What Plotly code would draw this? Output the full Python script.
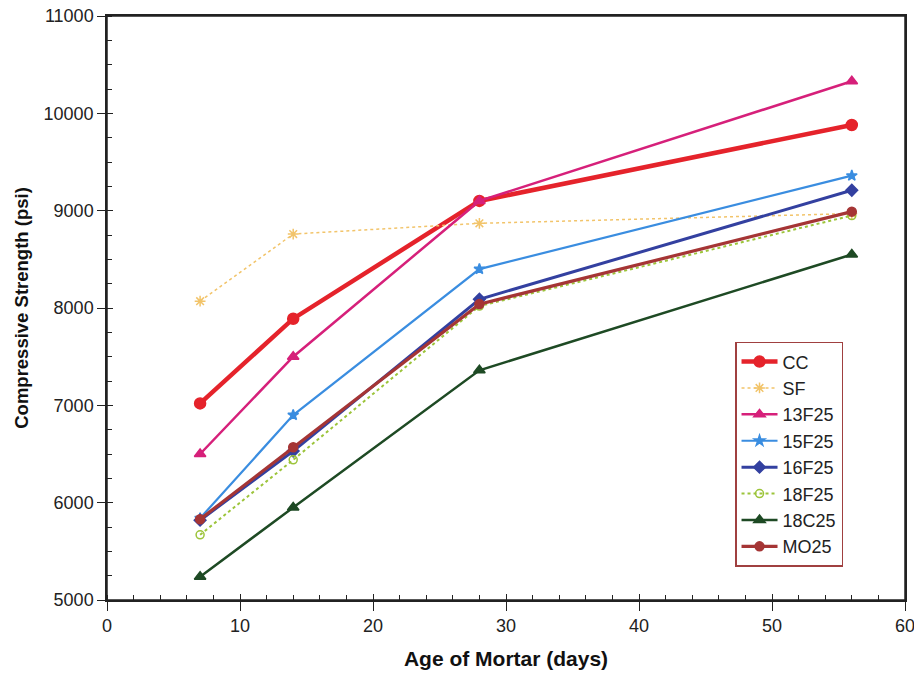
import plotly.graph_objects as go

days = [7, 14, 28, 56]
series_names = ["CC", "SF", "13F25", "15F25", "16F25", "18F25", "18C25", "MO25"]
cc = [7020, 7890, 9100, 9880]
sf = [8070, 8760, 8870, 8970]
f13 = [6500, 7500, 9100, 10330]
f15 = [5840, 6900, 8400, 9360]
f16 = [5820, 6530, 8090, 9210]
f18 = [5670, 6440, 8020, 8950]
c18 = [5240, 5950, 7360, 8550]
mo25 = [5830, 6570, 8040, 8990]

values = [cc, sf, f13, f15, f16, f18, c18, mo25]
styles = [
    dict(color="#e5232b", width=4.5, dash="solid", symbol="circle", size=11),
    dict(color="#f2c46a", width=1.5, dash="dot", symbol="asterisk-open", size=9),
    dict(color="#d6207a", width=2.5, dash="solid", symbol="triangle-up", size=10),
    dict(color="#3a8de0", width=2.2, dash="solid", symbol="star", size=8),
    dict(color="#3340a0", width=3, dash="solid", symbol="diamond", size=9),
    dict(color="#9cc43a", width=2, dash="dot", symbol="circle-open", size=8),
    dict(color="#1e4a24", width=2.5, dash="solid", symbol="triangle-up", size=10),
    dict(color="#a53535", width=3.2, dash="solid", symbol="circle", size=9),
]

fig = go.Figure()
for name, vals, st in zip(series_names, values, styles):
    fig.add_trace(go.Scatter(
        x=days, y=vals, name=name, mode="lines+markers",
        line=dict(color=st["color"], width=st["width"], dash=st["dash"]),
        marker=dict(color=st["color"], symbol=st["symbol"], size=st["size"],
                    line=dict(color=st["color"], width=1.5)),
    ))

font = "Liberation Sans, Arial, sans-serif"
axis_common = dict(
    showgrid=False, zeroline=False, showline=True, linecolor="#222", linewidth=1.5,
    mirror=True, ticks="outside", tickcolor="#222", automargin=False,
    ticklabeloverflow="allow",
    tickfont=dict(family=font, size=18, color="#222"),
)
fig.update_layout(
    width=914, height=675,
    margin=dict(l=107, r=9, t=16, b=75),
    paper_bgcolor="white", plot_bgcolor="white",
    showlegend=True,
    legend=dict(
        x=0.787, y=0.442, xanchor="left", yanchor="top",
        bordercolor="#a04040", borderwidth=1.5, bgcolor="white",
        font=dict(family=font, size=18, color="#222"),
        tracegroupgap=0, itemwidth=36,
    ),
    xaxis=dict(
        range=[0, 60], dtick=10, ticklen=9, **axis_common,
        minor=dict(dtick=2, ticks="inside", ticklen=5, tickcolor="#222"),
        title=dict(text="<b>Age of Mortar (days)</b>", font=dict(family=font, size=21, color="#111"), standoff=16),
    ),
    yaxis=dict(
        range=[5000, 11000], dtick=1000, tickformat="d", ticklen=8, **axis_common,
        minor=dict(dtick=250, ticks="inside", ticklen=5, tickcolor="#222"),
        title=dict(text="<b>Compressive Strength (psi)</b>", font=dict(family=font, size=18.5, color="#111"), standoff=10),
    ),
    xaxis2=dict(overlaying="x", matches="x", range=[0, 60], dtick=10, ticks="inside", ticklen=6,
                tickcolor="#222", showticklabels=False, showgrid=False, zeroline=False, side="bottom"),
    yaxis2=dict(overlaying="y", matches="y", range=[5000, 11000], dtick=1000, ticks="inside", ticklen=6,
                tickcolor="#222", showticklabels=False, showgrid=False, zeroline=False, side="left"),
    shapes=[dict(type="rect", xref="x domain", yref="y domain", x0=0, x1=1, y0=0, y1=1,
                 line=dict(color="#222", width=1.5), layer="above")],
)
fig.add_trace(go.Scatter(x=[days[0]], y=[cc[0]], xaxis="x2", yaxis="y2", mode="markers",
                         marker=dict(opacity=0), showlegend=False, hoverinfo="skip"))

fig.write_html("out.html", config={"displayModeBar": False},
               post_script="document.body.style.margin='0';document.body.style.overflow='hidden';")
